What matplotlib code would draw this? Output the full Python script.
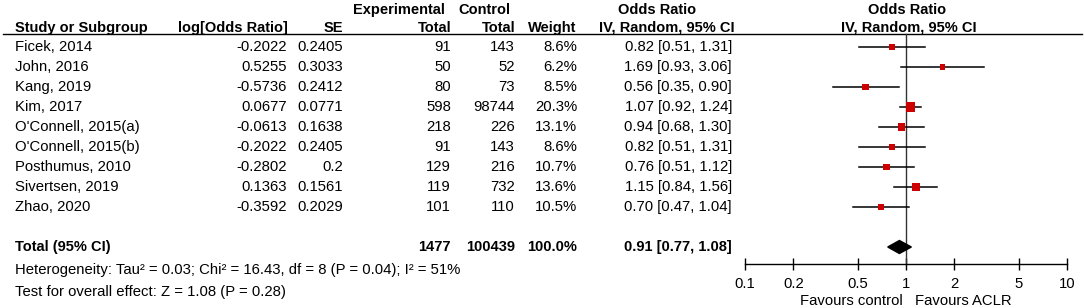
import numpy as np
import matplotlib.pyplot as plt

plt.rcParams['font.family'] = ['Liberation Sans', 'DejaVu Sans']

studies = ["Ficek, 2014", "John, 2016", "Kang, 2019", "Kim, 2017",
           "O'Connell, 2015(a)", "O'Connell, 2015(b)", "Posthumus, 2010",
           "Sivertsen, 2019", "Zhao, 2020"]
log_or = [-0.2022, 0.5255, -0.5736, 0.0677, -0.0613, -0.2022, -0.2802, 0.1363, -0.3592]
se = [0.2405, 0.3033, 0.2412, 0.0771, 0.1638, 0.2405, 0.2, 0.1561, 0.2029]
exp_total = [91, 50, 80, 598, 218, 91, 129, 119, 101]
ctrl_total = [143, 52, 73, 98744, 226, 143, 216, 732, 110]
weight = [8.6, 6.2, 8.5, 20.3, 13.1, 8.6, 10.7, 13.6, 10.5]
odds = [0.82, 1.69, 0.56, 1.07, 0.94, 0.82, 0.76, 1.15, 0.70]
ci_lo = [0.51, 0.93, 0.35, 0.92, 0.68, 0.51, 0.51, 0.84, 0.47]
ci_hi = [1.31, 3.06, 0.90, 1.24, 1.30, 1.31, 1.12, 1.56, 1.04]

tot_exp = 1477
tot_ctrl = 100439
tot_weight = 100.0
tot_or, tot_lo, tot_hi = 0.91, 0.77, 1.08

het_text = "Heterogeneity: Tau² = 0.03; Chi² = 16.43, df = 8 (P = 0.04); I² = 51%"
eff_text = "Test for overall effect: Z = 1.08 (P = 0.28)"
xticks = [0.1, 0.2, 0.5, 1, 2, 5, 10]
xtick_labels = ["0.1", "0.2", "0.5", "1", "2", "5", "10"]

W, H = 1084, 308
fs = 10.5
fs_reg = 10.7
fig = plt.figure(figsize=(W / 100, H / 100), dpi=100)
ax0 = fig.add_axes([0, 0, 1, 1])
ax0.set_xlim(0, W)
ax0.set_ylim(H, 0)
ax0.axis("off")

# headers
bold = dict(fontsize=fs, fontweight="bold", va="center")
ax0.text(399, 10, "Experimental", ha="center", **bold)
ax0.text(484.5, 10, "Control", ha="center", **bold)
ax0.text(657, 10, "Odds Ratio", ha="center", **bold)
ax0.text(907, 10, "Odds Ratio", ha="center", **bold)
ax0.text(15, 28, "Study or Subgroup", ha="left", **bold)
ax0.text(288, 28, "log[Odds Ratio]", ha="right", **bold)
ax0.text(343, 28, "SE", ha="right", **bold)
ax0.text(451, 28, "Total", ha="right", **bold)
ax0.text(515, 28, "Total", ha="right", **bold)
ax0.text(576, 28, "Weight", ha="right", **bold)
ax0.text(667, 28, "IV, Random, 95% CI", ha="center", **bold)
ax0.text(908.5, 28, "IV, Random, 95% CI", ha="center", **bold)
ax0.plot([3, 1082], [34, 34], color="black", lw=1.0)

row_y = 47 + 20 * np.arange(len(studies))
reg = dict(fontsize=fs_reg, va="center")
for i, y in enumerate(row_y):
    ax0.text(15, y, studies[i], ha="left", **reg)
    ax0.text(287, y, "%g" % log_or[i], ha="right", **reg)
    ax0.text(343, y, "%g" % se[i], ha="right", **reg)
    ax0.text(451, y, str(exp_total[i]), ha="right", **reg)
    ax0.text(515, y, str(ctrl_total[i]), ha="right", **reg)
    ax0.text(577, y, "%.1f%%" % weight[i], ha="right", **reg)
    ax0.text(732, y, "%.2f [%.2f, %.2f]" % (odds[i], ci_lo[i], ci_hi[i]), ha="right", **reg)

ty = 247
ax0.text(15, ty, "Total (95% CI)", ha="left", **bold)
ax0.text(451, ty, str(tot_exp), ha="right", **bold)
ax0.text(515, ty, str(tot_ctrl), ha="right", **bold)
ax0.text(577, ty, "%.1f%%" % tot_weight, ha="right", **bold)
ax0.text(732, ty, "%.2f [%.2f, %.2f]" % (tot_or, tot_lo, tot_hi), ha="right", **bold)
ax0.text(15, 270, het_text, ha="left", **reg)
ax0.text(15, 292, eff_text, ha="left", **reg)
ax0.text(903, 301, "Favours control", ha="right", **reg)
ax0.text(915, 301, "Favours ACLR", ha="left", **reg)

# forest panel
ax = fig.add_axes([745 / W, 0, 322 / W, 1])
ax.patch.set_alpha(0)
ax.set_xscale("log")
ax.set_xlim(0.1, 10)
ax.set_ylim(H, 0)
for s in ["top", "left", "right"]:
    ax.spines[s].set_visible(False)
ax.spines["bottom"].set_position(("data", 264))
ax.spines["bottom"].set_linewidth(1.0)
ax.yaxis.set_visible(False)
ax.set_xticks(xticks, labels=xtick_labels)
ax.minorticks_off()
ax.tick_params(axis="x", direction="inout", length=8, width=1.0, labelsize=fs_reg, pad=5)

ax.plot([1, 1], [34, 264], color="#333333", lw=1.0)
for i, y in enumerate(row_y):
    ax.plot([ci_lo[i], ci_hi[i]], [y, y], color="black", lw=1.1)
ax.scatter(odds, row_y, marker="s", s=2.3 * np.array(weight), color="#cc0000", zorder=3, linewidths=0)
ax.fill([tot_lo, tot_or, tot_hi, tot_or], [ty, ty - 6.5, ty, ty + 6.5], color="black", zorder=3)

fig.savefig("out.png", dpi=100)
